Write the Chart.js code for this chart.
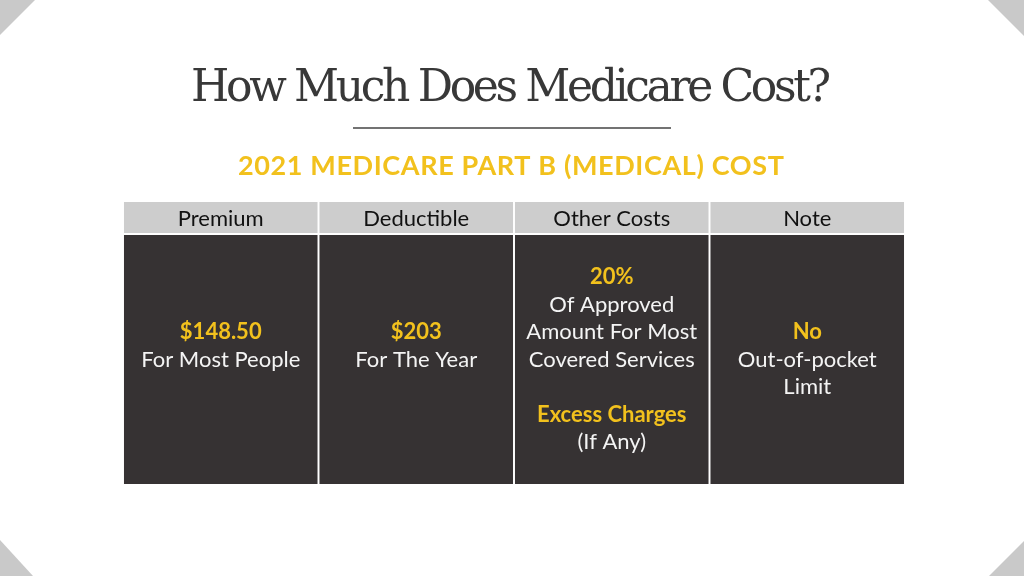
<!DOCTYPE html>
<html>
<head>
<meta charset="utf-8">
<script src="https://cdn.jsdelivr.net/npm/chart.js@4/dist/chart.umd.min.js"></script>
<style>
    html, body { margin: 0; padding: 0; background: #ffffff; }
    #wrap { width: 1024px; height: 576px; position: relative; }
</style>
</head>
<body>
<div id="wrap"><canvas id="costChart"></canvas></div>
<script>
// Table content for 2021 Medicare Part B
const columns = ['Premium', 'Deductible', 'Other Costs', 'Note'];
// each cell: list of [text, highlighted]
const cellLines = [
    [['$148.50', true], ['For Most People', false]],
    [['$203', true], ['For The Year', false]],
    [['20%', true], ['Of Approved', false], ['Amount For Most', false], ['Covered Services', false], ['', false], ['Excess Charges', true], ['(If Any)', false]],
    [['No', true], ['Out-of-pocket', false], ['Limit', false]]
];

const titleText = 'How Much Does Medicare Cost?';
const subtitleText = '2021 MEDICARE PART B (MEDICAL) COST';

// layout (pixels)
const HEADER_H = 31;
const GAP_H = 2;
const TABLE_H = 282;
const LINE_H = 27.5;

const YELLOW = '#f2c11d';
const DARK = '#363233';
const HEADER_BG = '#cdcdcd';

// fit text to a target width by adjusting letter spacing
function drawFitted(ctx, text, cx, y, targetW) {
    ctx.letterSpacing = '0px';
    const w = ctx.measureText(text).width;
    const sp = (targetW - w) / (text.length - 1);
    ctx.letterSpacing = sp.toFixed(2) + 'px';
    ctx.textAlign = 'left';
    ctx.fillText(text, cx - targetW / 2, y);
    ctx.letterSpacing = '0px';
}

const decorPlugin = {
    id: 'decor',
    beforeDraw(chart) {
        const ctx = chart.ctx;
        ctx.save();
        ctx.fillStyle = '#ffffff';
        ctx.fillRect(0, 0, chart.width, chart.height);

        // corner triangles
        ctx.fillStyle = '#c9c9c9';
        const tris = [
            [[0, 0], [35, 0], [0, 35]],
            [[988, 0], [1024, 0], [1024, 36]],
            [[0, 540], [0, 576], [33, 576]],
            [[1024, 541], [1024, 576], [989, 576]]
        ];
        tris.forEach(t => {
            ctx.beginPath();
            ctx.moveTo(t[0][0], t[0][1]);
            ctx.lineTo(t[1][0], t[1][1]);
            ctx.lineTo(t[2][0], t[2][1]);
            ctx.closePath();
            ctx.fill();
        });

        // title
        ctx.fillStyle = '#383838';
        ctx.textBaseline = 'alphabetic';
        ctx.font = '300 44px "DejaVu Serif"';
        drawFitted(ctx, titleText, 511, 101, 640);

        // rule
        ctx.strokeStyle = '#444444';
        ctx.lineWidth = 1.5;
        ctx.beginPath();
        ctx.moveTo(353, 128);
        ctx.lineTo(671, 128);
        ctx.stroke();

        // subtitle
        ctx.fillStyle = YELLOW;
        ctx.font = 'bold 27px Lato';
        drawFitted(ctx, subtitleText, 511, 175, 546);
        ctx.restore();
    },
    afterDatasetsDraw(chart) {
        const ctx = chart.ctx;
        const xs = chart.scales.x;
        const ys = chart.scales.y;
        ctx.save();
        ctx.textAlign = 'center';
        ctx.textBaseline = 'middle';

        // header labels
        ctx.fillStyle = '#111111';
        ctx.font = '22px Lato';
        columns.forEach((c, i) => {
            ctx.fillText(c, xs.getPixelForValue(i), ys.getPixelForValue(HEADER_H / 2) + 1);
        });

        // body lines: the middle line (rounded down) sits on the body centre
        const midY = ys.getPixelForValue((HEADER_H + GAP_H + TABLE_H) / 2);
        cellLines.forEach((lines, i) => {
            const cx = xs.getPixelForValue(i);
            const top = midY - Math.floor(lines.length / 2) * LINE_H;
            lines.forEach((ln, k) => {
                if (!ln[0]) return;
                ctx.fillStyle = ln[1] ? YELLOW : '#f4f4f4';
                ctx.font = (ln[1] ? 'bold ' : '') + '22px Lato';
                ctx.fillText(ln[0], cx, top + k * LINE_H);
            });
        });
        ctx.restore();
    }
};

const ctx = document.getElementById('costChart').getContext('2d');
new Chart(ctx, {
    type: 'bar',
    data: {
        labels: columns,
        datasets: [{
            label: 'Header',
            data: columns.map(() => [0, HEADER_H]),
            backgroundColor: HEADER_BG,
            grouped: false,
            barPercentage: 1,
            categoryPercentage: 0.99
        }, {
            label: 'Cell',
            data: columns.map(() => [HEADER_H + GAP_H, TABLE_H]),
            backgroundColor: DARK,
            grouped: false,
            barPercentage: 1,
            categoryPercentage: 0.99
        }]
    },
    options: {
        responsive: true,
        maintainAspectRatio: false,
        animation: false,
        layout: { padding: { left: 123, right: 119, top: 202, bottom: 92 } },
        plugins: {
            legend: { display: false },
            tooltip: { enabled: false }
        },
        scales: {
            x: { display: false },
            y: { display: false, min: 0, max: TABLE_H, reverse: true }
        }
    },
    plugins: [decorPlugin]
});
</script>
</body>
</html>
